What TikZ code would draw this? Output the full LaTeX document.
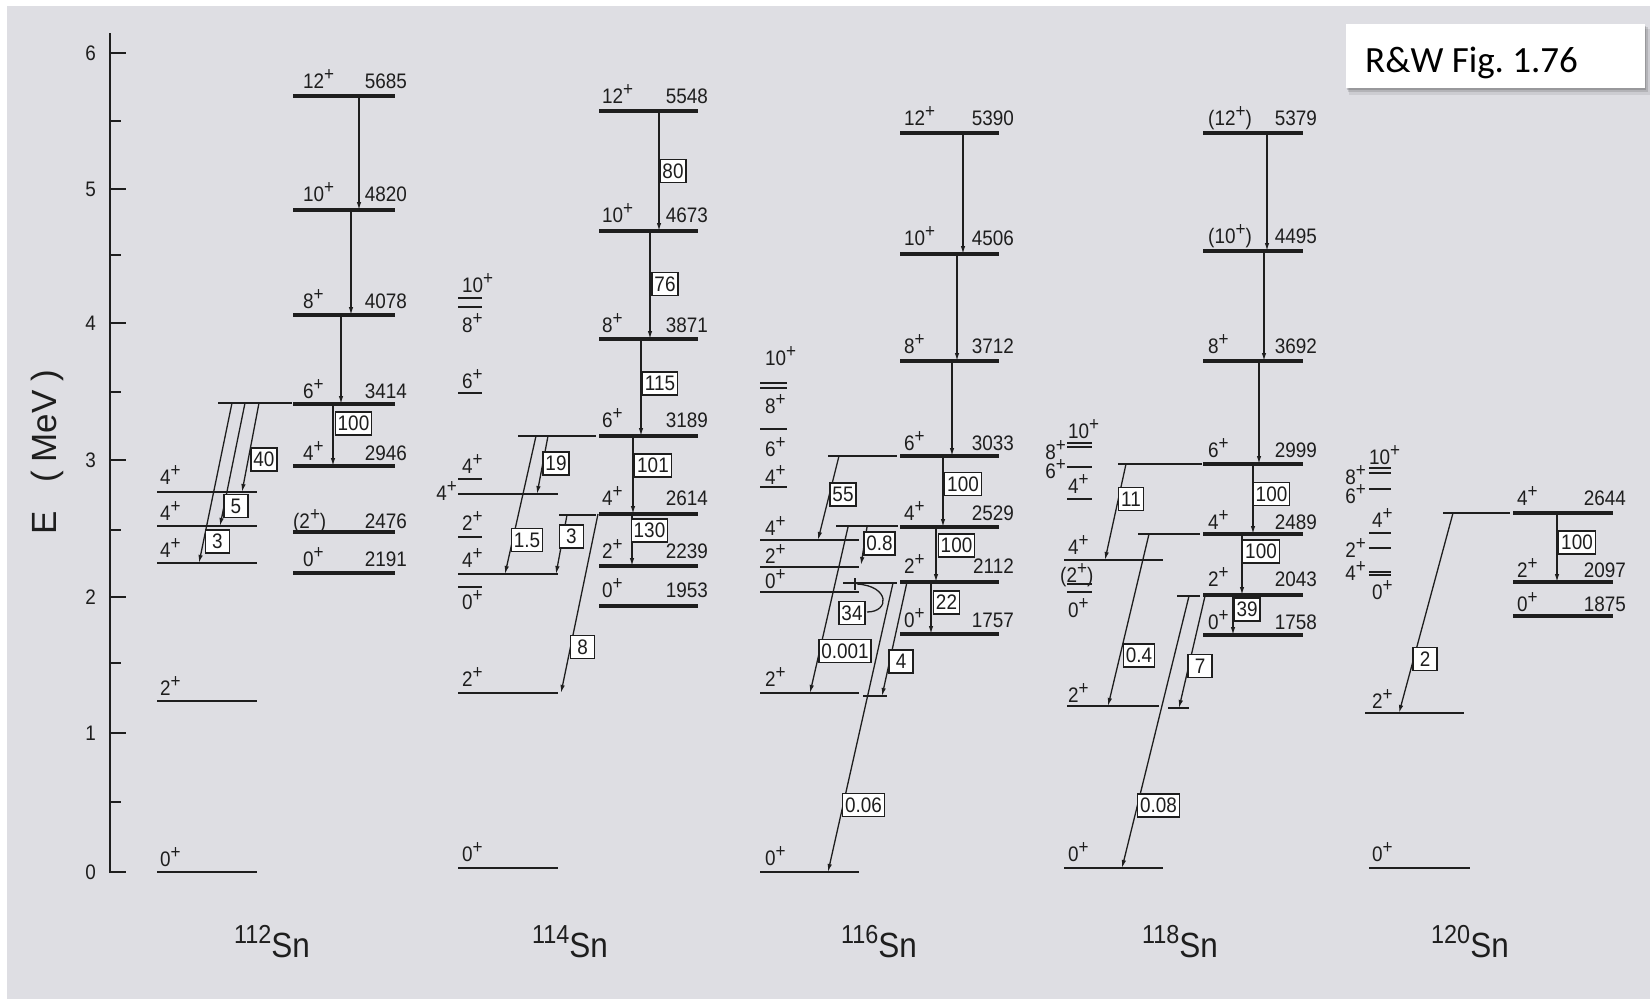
\documentclass[tikz,border=0pt]{standalone}
\usepackage{fontspec}
\setmainfont[FakeStretch=0.9]{Liberation Sans}
\newfontfamily\plainsans{Liberation Sans}
\newfontfamily\calib{Carlito}
\usetikzlibrary{arrows.meta}
\frenchspacing
\definecolor{bg}{RGB}{222,222,227}
\definecolor{ink}{RGB}{30,30,30}
\newcommand\lbl{\fontsize{21}{21}\selectfont}
\newcommand\Jp[1]{#1\raisebox{8pt}{\fontsize{19}{19}\selectfont +}}
\newcommand\Jq[1]{(#1\raisebox{8pt}{\fontsize{19}{19}\selectfont +})}
\newcommand\TL[5]{%
  \draw[lev] (\LX,#2) -- (\RX,#2);
  \node[sp] (#1s) at (\SX,#2-#5) {#3};
  \node[en] (#1e) at (\EX,#2-#5) {#4};}
\begin{document}
\begin{tikzpicture}[x=1pt,y=-1pt,
  lev/.style={line width=3.8pt, draw=ink},
  thn/.style={line width=1.8pt, draw=ink},
  tr/.style={line width=1.3pt, draw=ink, -{Latex[length=8pt,width=4.5pt]}},
  bx/.style={draw=ink, fill=white, line width=1.4pt, inner xsep=2.5pt, inner ysep=0pt, minimum height=23pt, minimum width=24pt, font=\lbl, text=ink},
  sp/.style={anchor=base west, inner sep=0pt, font=\lbl, text=ink},
  spr/.style={anchor=base east, inner sep=0pt, font=\lbl, text=ink},
  en/.style={anchor=base east, inner sep=0pt, font=\lbl, text=ink}]
\useasboundingbox (0,0) rectangle (1650,999);
\fill[white] (0,0) rectangle (1650,999);
\fill[bg] (7,6) rectangle (1650,999);

% title box
\fill[black,opacity=0.08] (1349,29) rectangle (1650,95);
\fill[black,opacity=0.12] (1348,27) rectangle (1648,92);
\fill[black,opacity=0.15] (1347,26) rectangle (1646,90);
\node[fill=white, minimum width=299pt, minimum height=64pt, anchor=north west, inner sep=0pt] (rw) at (1346,24) {};
\node[anchor=base west, inner sep=0pt, font=\calib\fontsize{37}{37}\selectfont, text=black] (rwt) at (1365,72) {R\&W Fig. 1.76};

% axis
\draw[line width=1.8pt, ink] (110,33) -- (110,873);
\foreach \y/\v in {872/0,733/1,597/2,460/3,323/4,189/5,53/6}{
  \draw[line width=1.8pt, ink] (110,\y) -- (126,\y);
  \node[anchor=east, inner sep=0pt, font=\lbl, text=ink] (tick\v) at (96,\y) {\v};}
\foreach \y in {802,663,530,392,255,121}{
  \draw[line width=1.8pt, ink] (110,\y) -- (121,\y);}
\node[rotate=90, font=\plainsans\fontsize{35}{35}\selectfont, text=ink] (elab) at (47,452) {E\hspace{0.8em}(\hspace{0.25em}MeV\hspace{0.25em})};

% isotope labels
\foreach \x/\A in {272/112,570/114,879/116,1180/118,1470/120}{
  \node[anchor=base, inner sep=0pt, font=\fontsize{35}{35}\selectfont, text=ink] (iso\A) at (\x,957) {\raisebox{14pt}{\fontsize{26}{26}\selectfont \A}Sn};}

% ================= 112Sn
\def\LX{293}\def\RX{395}\def\SX{303}\def\EX{407}
\TL{a12}{96}{\Jp{12}}{5685}{8}
\TL{a10}{210}{\Jp{10}}{4820}{9}
\TL{a8}{315}{\Jp{8}}{4078}{7}
\TL{a6}{404}{\Jp{6}}{3414}{6}
\TL{a4}{466}{\Jp{4}}{2946}{6}
\def\SX{293}
\TL{a2}{532}{\Jq{2}}{2476}{4}
\def\SX{303}
\TL{a0}{573}{\Jp{0}}{2191}{7}
\draw[thn] (218,403) -- (292,403);
\foreach \y in {872,701,563,526,492}{\draw[thn] (157,\y) -- (257,\y);}
\node[sp] (al0) at (160,866) {\Jp{0}};
\node[sp] (al2) at (160,695) {\Jp{2}};
\node[sp] (al4a) at (160,557) {\Jp{4}};
\node[sp] (al4b) at (160,520) {\Jp{4}};
\node[sp] (al4c) at (160,484) {\Jp{4}};
\draw[tr] (359,96) -- (359,210);
\draw[tr] (351,210) -- (351,315);
\draw[tr] (341,315) -- (341,404);
\draw[tr] (333,404) -- (333,466);
\draw[tr] (259,403) -- (242,492);
\draw[tr] (245,403) -- (220,526);
\draw[tr] (232,403) -- (199,563);
\node[bx] (ab1) at (353.5,423.5) {100};
\node[bx] (ab2) at (264,459.5) {40};
\node[bx] (ab3) at (236,506) {5};
\node[bx] (ab4) at (217.5,541.5) {3};

% ================= 114Sn
\def\LX{599}\def\RX{698}\def\SX{602}\def\EX{708}
\TL{b12}{111}{\Jp{12}}{5548}{8}
\TL{b10}{231}{\Jp{10}}{4673}{9}
\TL{b8}{339}{\Jp{8}}{3871}{7}
\TL{b6}{436}{\Jp{6}}{3189}{9}
\TL{b4}{514}{\Jp{4}}{2614}{9}
\TL{b2}{566}{\Jp{2}}{2239}{8}
\TL{b0}{606}{\Jp{0}}{1953}{9}
\draw[thn] (518,436) -- (596,436);
\draw[thn] (559,515) -- (596,515);
\foreach \y in {868,693,574,494}{\draw[thn] (458,\y) -- (558,\y);}
\foreach \y in {587,537,479,393,307,298}{\draw[thn] (458,\y) -- (482,\y);}
\node[sp] (bl0a) at (462,861) {\Jp{0}};
\node[sp] (bl2a) at (462,686) {\Jp{2}};
\node[sp] (bl0b) at (462,609) {\Jp{0}};
\node[sp] (bl4a) at (462,567) {\Jp{4}};
\node[sp] (bl2b) at (462,530) {\Jp{2}};
\node[spr] (bl4b) at (457,500) {\Jp{4}};
\node[sp] (bl4c) at (462,473) {\Jp{4}};
\node[sp] (bl6) at (462,388) {\Jp{6}};
\node[sp] (bl10) at (462,292) {\Jp{10}};
\node[sp] (bl8) at (462,332) {\Jp{8}};
\draw[tr] (659,111) -- (659,231);
\draw[tr] (650,231) -- (650,339);
\draw[tr] (641,339) -- (641,436);
\draw[tr] (633,436) -- (633,514);
\draw[tr] (632,514) -- (632,566);
\draw[tr] (548,436) -- (537,494);
\draw[tr] (536,436) -- (505,574);
\draw[tr] (567,515) -- (556,574);
\draw[tr] (598,514) -- (561,693);
\node[bx] (bb1) at (673,171) {80};
\node[bx] (bb2) at (665,284) {76};
\node[bx] (bb3) at (660,383.5) {115};
\node[bx] (bb4) at (653,465.5) {101};
\node[bx] (bb5) at (649.5,530.5) {130};
\node[bx] (bb6) at (556,463.5) {19};
\node[bx] (bb7) at (527,540) {1.5};
\node[bx] (bb8) at (571.5,536.5) {3};
\node[bx] (bb9) at (582.5,647) {8};

% ================= 116Sn
\def\LX{900}\def\RX{999}\def\SX{904}\def\EX{1014}
\TL{c12}{133}{\Jp{12}}{5390}{8}
\TL{c10}{254}{\Jp{10}}{4506}{9}
\TL{c8}{361}{\Jp{8}}{3712}{8}
\TL{c6}{456}{\Jp{6}}{3033}{6}
\TL{c4}{527}{\Jp{4}}{2529}{7}
\TL{c2}{582}{\Jp{2}}{2112}{9}
\TL{c0}{634}{\Jp{0}}{1757}{7}
\draw[thn] (828,456) -- (897,456);
\draw[thn] (836,526) -- (898,526);
\draw[thn] (843,583) -- (897,583);
\draw[thn] (855,578) -- (855,590);
\foreach \y in {872,693,592,567,540}{\draw[thn] (760,\y) -- (859,\y);}
\foreach \y in {487,429,388,383}{\draw[thn] (760,\y) -- (787,\y);}
\draw[thn] (863,696) -- (887,696);
\node[sp] (cl0a) at (765,865) {\Jp{0}};
\node[sp] (cl2a) at (765,686) {\Jp{2}};
\node[sp] (cl0b) at (765,588) {\Jp{0}};
\node[sp] (cl2b) at (765,563) {\Jp{2}};
\node[sp] (cl4a) at (765,535) {\Jp{4}};
\node[sp] (cl4b) at (765,484) {\Jp{4}};
\node[sp] (cl6) at (765,456) {\Jp{6}};
\node[sp] (cl8) at (765,413) {\Jp{8}};
\node[sp] (cl10) at (765,365) {\Jp{10}};
\draw[tr] (963,133) -- (963,254);
\draw[tr] (957,254) -- (957,361);
\draw[tr] (952,361) -- (952,456);
\draw[tr] (943,456) -- (943,527);
\draw[tr] (936,527) -- (936,582);
\draw[tr] (931,582) -- (931,634);
\draw[tr] (839,456) -- (818,540);
\draw[tr] (867,527) -- (861,565);
\draw[tr] (848,527) -- (810,693);
\draw[tr] (893,583) -- (828,872);
\draw[tr] (907,582) -- (882,696);
\draw[line width=1.3pt, ink] (857,584) .. controls (890,586) and (890,612) .. (867,612);
\node[bx] (cb1) at (963,484) {100};
\node[bx] (cb2) at (956.5,545.5) {100};
\node[bx] (cb3) at (946.5,602.5) {22};
\node[bx] (cb4) at (843,494.5) {55};
\node[bx] (cb5) at (879.5,543.5) {0.8};
\node[bx] (cb6) at (845,651) {0.001};
\node[bx] (cb7) at (863.5,805) {0.06};
\node[bx] (cb8) at (901,661.5) {4};
\node[bx] (cb9) at (852,613) {34};

% ================= 118Sn
\def\LX{1203}\def\RX{1303}\def\SX{1208}\def\EX{1317}
\TL{d12}{133}{\Jq{12}}{5379}{8}
\TL{d10}{251}{\Jq{10}}{4495}{8}
\TL{d8}{361}{\Jp{8}}{3692}{8}
\TL{d6}{464}{\Jp{6}}{2999}{7}
\TL{d4}{534}{\Jp{4}}{2489}{5}
\TL{d2}{595}{\Jp{2}}{2043}{9}
\TL{d0}{635}{\Jp{0}}{1758}{6}
\draw[thn] (1118,464) -- (1202,464);
\draw[thn] (1138,534) -- (1200,534);
\draw[thn] (1177,596) -- (1200,596);
\foreach \y in {868,560}{\draw[thn] (1064,\y) -- (1163,\y);}
\draw[thn] (1067,706) -- (1159,706);
\draw[thn] (1168,708) -- (1189,708);
\foreach \y in {592,584,499,467,447,443}{\draw[thn] (1067,\y) -- (1092,\y);}
\node[sp] (dl0a) at (1068,861) {\Jp{0}};
\node[sp] (dl2a) at (1068,702) {\Jp{2}};
\node[sp] (dl0b) at (1068,617) {\Jp{0}};
\node[sp] (dl2b) at (1060,582) {\Jq{2}};
\node[sp] (dl4a) at (1068,554) {\Jp{4}};
\node[sp] (dl4b) at (1068,493) {\Jp{4}};
\node[spr] (dl6) at (1066,478) {\Jp{6}};
\node[spr] (dl8) at (1066,459) {\Jp{8}};
\node[sp] (dl10) at (1068,438) {\Jp{10}};
\draw[tr] (1267,133) -- (1267,251);
\draw[tr] (1264,251) -- (1264,361);
\draw[tr] (1259,361) -- (1259,464);
\draw[tr] (1253,464) -- (1253,534);
\draw[tr] (1242,534) -- (1242,595);
\draw[tr] (1233,595) -- (1233,635);
\draw[tr] (1126,464) -- (1105,560);
\draw[tr] (1149,534) -- (1108,706);
\draw[tr] (1189,596) -- (1122,868);
\draw[tr] (1205,596) -- (1179,708);
\node[bx] (db1) at (1271.5,494) {100};
\node[bx] (db2) at (1261,551.5) {100};
\node[bx] (db3) at (1247,609.5) {39};
\node[bx] (db4) at (1131,499) {11};
\node[bx] (db5) at (1139,655.5) {0.4};
\node[bx] (db6) at (1158.5,805.5) {0.08};
\node[bx] (db7) at (1200,666) {7};

% ================= 120Sn
\def\LX{1513}\def\RX{1613}\def\SX{1517}\def\EX{1626}
\TL{e4}{513}{\Jp{4}}{2644}{8}
\TL{e2}{582}{\Jp{2}}{2097}{5}
\TL{e0}{616}{\Jp{0}}{1875}{5}
\draw[thn] (1443,513) -- (1510,513);
\draw[thn] (1369,868) -- (1470,868);
\draw[thn] (1365,713) -- (1464,713);
\foreach \y in {575,572,548,533,489,473,468}{\draw[thn] (1369,\y) -- (1391,\y);}
\node[sp] (el0a) at (1372,861) {\Jp{0}};
\node[sp] (el2a) at (1372,708) {\Jp{2}};
\node[sp] (el0b) at (1372,599) {\Jp{0}};
\node[spr] (el4a) at (1366,580) {\Jp{4}};
\node[spr] (el2b) at (1366,557) {\Jp{2}};
\node[sp] (el4b) at (1372,527) {\Jp{4}};
\node[spr] (el6) at (1366,503) {\Jp{6}};
\node[spr] (el8) at (1366,484) {\Jp{8}};
\node[sp] (el10) at (1369,464) {\Jp{10}};
\draw[tr] (1557,513) -- (1557,582);
\draw[tr] (1453,513) -- (1399,713);
\node[bx] (eb1) at (1577,542.5) {100};
\node[bx] (eb2) at (1425,659) {2};
\end{tikzpicture}
\end{document}
